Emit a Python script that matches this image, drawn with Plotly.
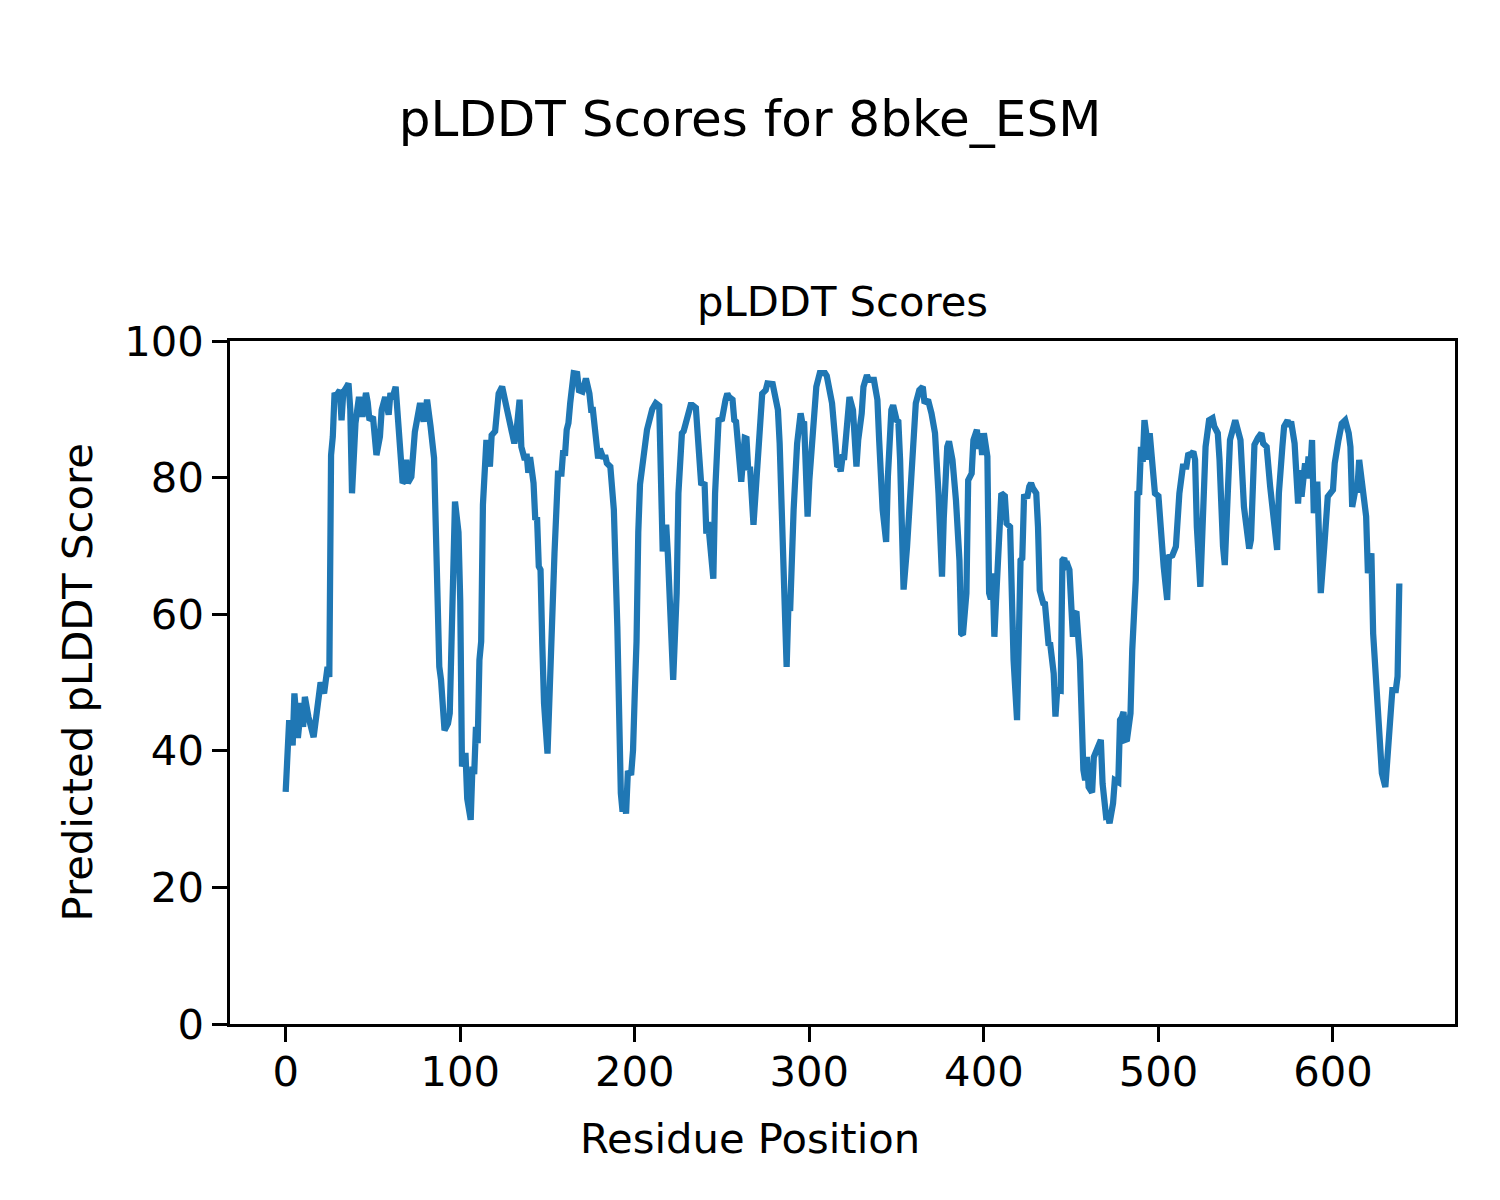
import plotly.graph_objects as go

# Residue positions (vertices of the plotted line) and pLDDT scores
residue = [
    0, 1, 2, 4, 5, 7, 9, 10, 11, 13, 16, 18, 20, 22, 24, 25, 26, 27, 28, 29,
    31, 32, 33, 35, 36, 37, 38, 40, 42, 44, 46, 47, 48, 50, 51, 52, 54, 55, 57, 59,
    60, 61, 63, 65, 66, 67, 68, 69, 70, 72, 74, 77, 79, 81, 83, 85, 88, 89, 91, 93,
    94, 97, 99, 100, 101, 102, 103, 104, 106, 107, 108, 109, 110, 111, 112, 113, 114, 115, 117, 118,
    120, 122, 124, 126, 131, 132, 134, 135, 137, 138, 139, 140, 142, 143, 144, 145, 146, 147, 148, 150,
    152, 153, 154, 156, 158, 159, 160, 161, 162, 163, 164, 165, 167, 168, 170, 172, 174, 175, 176, 177,
    178, 179, 180, 182, 183, 184, 186, 188, 190, 191, 192, 193, 194, 195, 196, 198, 199, 200, 201, 202,
    203, 205, 207, 210, 212, 214, 215, 216, 218, 219, 222, 224, 225, 227, 228, 230, 232, 233, 235, 236,
    238, 240, 241, 242, 244, 245, 246, 247, 248, 250, 251, 252, 253, 254, 256, 257, 258, 261, 263, 264,
    265, 266, 268, 269, 272, 273, 275, 276, 279, 280, 282, 283, 285, 286, 287, 288, 289, 291, 293, 295,
    296, 297, 299, 300, 302, 304, 306, 309, 310, 313, 315, 316, 317, 318, 319, 320, 323, 324, 325, 327,
    328, 330, 331, 333, 334, 337, 339, 340, 342, 344, 345, 347, 348, 350, 351, 352, 354, 356, 357, 358,
    359, 361, 363, 365, 366, 368, 370, 372, 374, 375, 376, 377, 378, 379, 380, 382, 384, 386, 387, 388,
    390, 391, 393, 394, 396, 397, 398, 399, 400, 402, 403, 404, 405, 406, 407, 409, 410, 411, 412, 413,
    415, 417, 418, 419, 421, 422, 423, 425, 426, 427, 428, 430, 431, 432, 434, 435, 437, 438, 440, 441,
    442, 444, 445, 446, 447, 448, 449, 450, 451, 452, 453, 455, 456, 457, 458, 459, 460, 462, 463, 465,
    467, 468, 469, 470, 471, 472, 474, 475, 477, 478, 479, 480, 481, 482, 484, 485, 487, 488, 489, 490,
    491, 492, 493, 494, 495, 496, 498, 500, 501, 503, 505, 506, 508, 510, 512, 513, 514, 516, 517, 519,
    520, 521, 522, 524, 526, 527, 529, 531, 532, 534, 535, 536, 537, 538, 540, 541, 544, 545, 547, 549,
    551, 552, 553, 555, 557, 559, 560, 562, 564, 565, 566, 568, 569, 570, 571, 572, 574, 575, 576, 578,
    580, 581, 582, 584, 585, 586, 587, 588, 589, 591, 592, 593, 595, 597, 600, 601, 603, 604, 605, 607,
    609, 610, 611, 613, 614, 615, 617, 619, 620, 622, 623, 625, 627, 628, 630, 631, 633, 634, 636, 637,
    638,
]
plddt = [
    34.0, 42.6, 44.5, 40.8, 48.4, 41.9, 47.0, 43.5, 47.9, 45.0, 42.0, 46.0, 50.0, 48.4, 52.3, 50.8, 83.3, 86.0, 92.4, 92.0,
    92.8, 88.4, 92.5, 93.3, 93.8, 90.0, 77.7, 88.0, 91.8, 88.9, 92.4, 91.0, 88.4, 88.9, 86.0, 83.3, 86.0, 89.9, 91.8, 89.2,
    92.4, 91.5, 93.3, 86.0, 83.1, 79.2, 79.5, 82.6, 79.2, 80.1, 86.7, 90.9, 88.2, 91.4, 87.5, 82.9, 52.3, 50.4, 43.0, 44.0,
    45.5, 76.5, 72.0, 62.0, 37.7, 38.5, 39.7, 33.0, 29.9, 37.7, 36.6, 43.5, 41.1, 53.3, 56.0, 76.0, 81.1, 85.5, 81.6, 86.2,
    86.8, 92.3, 93.3, 90.9, 85.0, 86.2, 91.4, 84.5, 82.6, 83.5, 80.7, 83.0, 79.2, 73.8, 74.2, 67.0, 66.5, 55.7, 47.0, 39.6,
    57.0, 63.0, 68.9, 80.6, 80.6, 84.0, 83.2, 87.0, 88.0, 90.9, 94.5, 95.3, 95.2, 92.8, 92.6, 94.5, 92.3, 89.9, 89.9, 87.5,
    84.0, 82.8, 84.2, 82.8, 83.3, 82.1, 81.6, 75.3, 58.2, 43.5, 33.8, 31.1, 33.8, 30.8, 36.7, 36.8, 40.1, 48.4, 56.0, 72.0,
    79.0, 83.0, 87.0, 90.0, 90.9, 90.5, 80.1, 69.2, 73.1, 68.5, 50.4, 63.1, 77.7, 86.5, 86.8, 88.9, 90.6, 90.6, 90.2, 86.5,
    79.2, 79.0, 71.8, 73.5, 66.0, 65.2, 77.7, 84.5, 88.4, 88.6, 90.6, 91.4, 92.3, 91.8, 91.4, 88.4, 88.2, 79.4, 85.8, 85.7,
    81.1, 81.6, 73.1, 77.6, 89.9, 92.3, 92.8, 93.8, 93.7, 91.9, 89.9, 85.0, 67.9, 55.7, 52.3, 61.1, 60.5, 75.3, 85.0, 89.4,
    88.0, 88.2, 74.3, 79.6, 87.5, 93.3, 95.3, 95.3, 94.9, 90.9, 85.0, 81.6, 81.8, 80.9, 83.0, 83.0, 91.8, 90.2, 89.9, 81.6,
    85.5, 89.4, 93.3, 95.0, 94.3, 94.3, 91.4, 85.5, 75.3, 70.6, 80.1, 89.9, 90.6, 88.4, 88.2, 82.6, 63.6, 69.9, 74.0, 79.0,
    82.0, 90.9, 92.8, 93.3, 90.9, 91.4, 89.4, 86.5, 77.7, 69.9, 65.5, 74.0, 80.0, 84.5, 85.3, 82.6, 76.7, 67.9, 57.2, 57.0,
    63.1, 79.6, 80.6, 85.5, 87.0, 84.2, 86.5, 83.3, 86.5, 83.1, 63.1, 62.2, 66.0, 56.7, 62.2, 76.2, 77.7, 77.5, 77.3, 73.3,
    72.8, 53.3, 45.5, 44.5, 67.9, 68.2, 77.2, 77.3, 78.7, 79.2, 78.5, 77.7, 72.8, 63.5, 61.6, 61.5, 55.7, 55.6, 51.3, 45.0,
    48.9, 48.8, 67.9, 68.2, 67.0, 67.2, 66.5, 58.2, 56.7, 60.1, 60.4, 53.3, 40.0, 37.2, 35.7, 39.1, 34.7, 33.9, 39.1, 40.1,
    41.6, 35.2, 31.0, 30.4, 30.5, 29.4, 32.3, 35.7, 35.4, 44.5, 44.9, 45.7, 41.6, 41.7, 45.5, 54.8, 65.0, 77.7, 77.8, 84.5,
    82.3, 88.4, 86.5, 82.6, 86.5, 83.5, 77.7, 77.3, 72.8, 67.0, 62.1, 68.4, 68.6, 69.9, 77.7, 79.2, 81.6, 81.6, 83.3, 83.5,
    83.8, 82.6, 72.8, 64.0, 80.6, 84.5, 88.4, 88.7, 87.5, 86.5, 82.6, 72.3, 69.9, 67.2, 81.6, 85.5, 88.4, 87.1, 85.5, 75.7,
    69.9, 69.6, 70.9, 84.8, 85.8, 86.5, 85.0, 84.5, 78.7, 76.2, 74.3, 69.4, 77.7, 83.3, 84.5, 87.5, 88.4, 87.5, 88.2, 85.0,
    76.2, 81.1, 77.2, 82.1, 79.9, 83.1, 81.1, 85.5, 74.8, 79.4, 72.8, 63.1, 69.9, 77.2, 78.2, 82.1, 85.3, 87.5, 87.9, 88.4,
    86.5, 84.5, 75.7, 78.5, 78.4, 82.6, 78.7, 74.3, 66.0, 68.9, 57.2, 48.4, 38.7, 36.7, 34.7, 38.7, 43.5, 48.9, 48.9, 50.9,
    64.5,
]

x_ticks = [0, 100, 200, 300, 400, 500, 600]
y_ticks = [0, 20, 40, 60, 80, 100]

FONT = "DejaVu Sans"

# The page body adds an 8px offset; the figure is sized to compensate.
W, H = 1492, 1192
OFF = 8

fig = go.Figure()
fig.add_trace(go.Scatter(
    x=residue, y=plddt, mode="lines",
    line=dict(color="#1f77b4", width=6.25),
    showlegend=False, hoverinfo="x+y",
))

axis_common = dict(
    showgrid=False, zeroline=False,
    showline=True, linecolor="black", linewidth=3.3, mirror=True,
    ticks="outside", ticklen=14.6, tickwidth=3.3, tickcolor="black",
    tickfont=dict(family=FONT, size=41.7, color="black"),
)

fig.update_layout(
    width=W, height=H,
    paper_bgcolor="white", plot_bgcolor="white",
    margin=dict(l=230 - OFF, r=45, t=341 - OFF, b=176),
    font=dict(family=FONT, color="black"),
    title=dict(
        text="pLDDT Scores for 8bke_ESM",
        x=(750 - OFF) / W, xref="container", xanchor="center",
        y=1 - (118 - OFF) / H, yref="container", yanchor="middle",
        font=dict(family=FONT, size=50, color="black"),
    ),
    xaxis=dict(range=[-31.9, 669.9], tickvals=x_ticks,
               ticktext=[str(v) for v in x_ticks], **axis_common),
    yaxis=dict(range=[0, 100], tickvals=y_ticks,
               ticktext=[str(v) for v in y_ticks], **axis_common),
    annotations=[
        dict(text="pLDDT Scores", xref="paper", yref="paper",
             x=0.5, y=(1024 - 302) / 683, xanchor="center", yanchor="middle",
             showarrow=False, font=dict(family=FONT, size=41.7, color="black")),
        dict(text="Residue Position", xref="paper", yref="paper",
             x=(750 - 230) / 1225, y=(1024 - 1138) / 683, xanchor="center", yanchor="middle",
             showarrow=False, font=dict(family=FONT, size=41.7, color="black")),
        dict(text="Predicted pLDDT Score", xref="paper", yref="paper",
             x=(77 - 230) / 1225, y=0.5, xanchor="center", yanchor="middle",
             textangle=-90, showarrow=False,
             font=dict(family=FONT, size=41.7, color="black")),
    ],
)
fig.update_xaxes(ticklabelstandoff=-6)

fig.write_html("out.html")
